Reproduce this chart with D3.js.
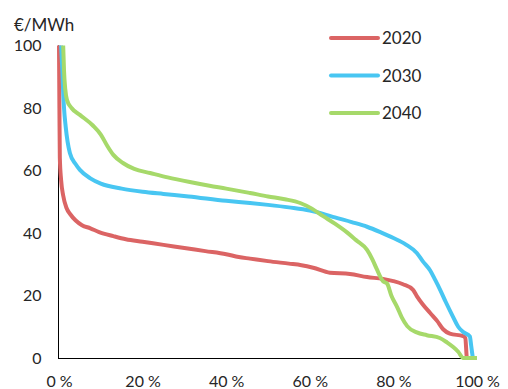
<!DOCTYPE html>
<html><head><meta charset="utf-8">
<script src="https://cdn.jsdelivr.net/npm/d3@7"></script>
<style>body{margin:0;background:#fff}svg{display:block}text{font-family:Lato,"Open Sans",sans-serif;fill:#262626}</style>
</head><body><svg id="c" width="508" height="389"></svg>
<script>
const seriesNames = ["2020", "2030", "2040"];
const colors = ["#db6464", "#48c6f2", "#a6d96a"];
const xTicks = [0, 20, 40, 60, 80, 100];
const yTicks = [0, 20, 40, 60, 80, 100];
// duration curves: [percent of hours, €/MWh]
const s2020 = [[0,100],[0.1,80],[0.2,64],[0.5,57],[1,52],[1.8,48],[2.7,46],[4,44],[5.5,42.5],[7.5,41.5],[9.6,40.3],[13,39],[16,38],[20,37.2],[25,36.2],[30,35.2],[35,34.2],[40,33.2],[43,32.3],[45.7,31.8],[50,31],[55,30.2],[58,29.7],[60.8,28.9],[64.8,27.3],[69.6,26.9],[73.7,25.9],[77.5,25.3],[80,24.6],[82.3,23.6],[84.7,21.8],[85.6,19.8],[87,17.2],[88.8,14.4],[90.5,11.8],[91.9,9.2],[93.5,7.8],[96.7,7],[97.2,6.4],[97.6,0],[98,0]];
const s2030 = [[0.5,100],[0.8,92],[1,85],[1.2,80],[1.6,74],[2.6,65.6],[4,62],[5,60.2],[7.5,57.5],[10,55.8],[15,54.2],[20,53.2],[25,52.5],[31,51.7],[40,50.3],[45.7,49.6],[50,49],[55,48.2],[60,47.2],[63,46.2],[66,45],[70,43.5],[73.7,42],[77,40.2],[80,38.4],[83,36.3],[85.6,33.6],[87,31],[88.8,28],[90,25],[91.3,21.5],[92.5,18],[94.3,13.1],[95.5,10],[96.7,8.3],[98.3,6.9],[98.6,4],[99,0]];
const s2040 = [[1,100],[1.2,92],[1.5,86],[1.9,82.6],[3,80],[5,77.8],[8.1,74.4],[10,71.5],[11.5,68],[13,65],[15.3,62.4],[18,60.5],[21.8,59.2],[26,57.8],[31.3,56.3],[36,55.1],[40,54.2],[45.7,52.8],[50,51.7],[54,50.8],[57.7,49.6],[60.5,47.8],[63.2,45.4],[66,43],[68.9,40.2],[71,37.8],[73.7,34.6],[75,31.5],[76,28.5],[77.5,24.6],[78.5,23.8],[79.5,20],[80.9,16.3],[82,13],[83.3,10.2],[85.6,8.2],[88,7.3],[91.1,6.4],[92.8,5],[94.3,3.5],[95.5,2],[96.7,0],[100,0]];
const series = [s2020, s2030, s2040];

const svg = d3.select("#c");
const x = d3.scaleLinear().domain([0, 100]).range([59, 477]);
const y = d3.scaleLinear().domain([0, 100]).range([358, 45.5]);

// axes
const xAxis = svg.append("g").attr("transform", "translate(0,358)")
  .call(d3.axisBottom(x).tickValues(xTicks).tickSize(0).tickPadding(18).tickFormat(d => d + " %"));
xAxis.select(".domain").attr("stroke", "#000").attr("stroke-width", 1).attr("d", `M${x(0)-1},0.5H${x(100)}`);
xAxis.selectAll("text").attr("font-size", 16).attr("font-family", "Lato, sans-serif").attr("fill", "#262626");

const yAxis = svg.append("g").attr("transform", "translate(58.5,0)")
  .call(d3.axisLeft(y).tickValues(yTicks).tickSize(0).tickPadding(17));
yAxis.select(".domain").attr("stroke", "#000").attr("stroke-width", 1).attr("d", `M0,${y(100)}V${y(0)+0.5}`);
yAxis.selectAll("text").attr("font-size", 16).attr("font-family", "Lato, sans-serif").attr("fill", "#262626");

svg.append("text").attr("x", 14).attr("y", 31).attr("font-size", 17).text("€/MWh");

// lines
const line = d3.line().x(d => x(d[0])).y(d => y(d[1])).curve(d3.curveMonotoneX);
series.forEach((s, i) => {
  svg.append("path").datum(s).attr("d", line).attr("fill", "none")
    .attr("stroke", colors[i]).attr("stroke-width", 4).attr("stroke-linejoin", "round");
});

// legend
seriesNames.forEach((n, i) => {
  const ly = 38 + i * 37.5;
  svg.append("line").attr("x1", 331).attr("x2", 378).attr("y1", ly).attr("y2", ly)
    .attr("stroke", colors[i]).attr("stroke-width", 4).attr("stroke-linecap", "round");
  svg.append("text").attr("x", 382).attr("y", ly + 6).attr("font-size", 17).text(n);
});
</script></body></html>
